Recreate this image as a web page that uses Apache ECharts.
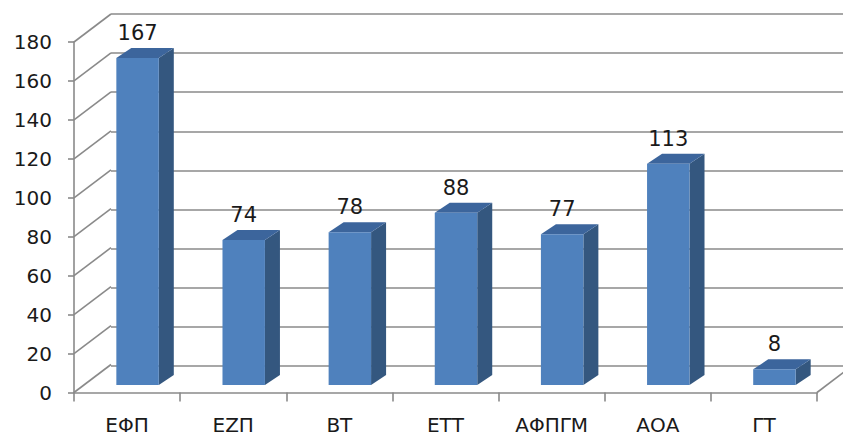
<!DOCTYPE html>
<html>
<head>
<meta charset="utf-8">
<script src="https://cdn.jsdelivr.net/npm/echarts@6/dist/echarts.min.js"></script>
<style>html,body{margin:0;padding:0;background:#fff}#c{width:843px;height:437px}</style>
</head>
<body>
<div id="c"></div>
<script>
const categories = ['ΕΦΠ', 'ΕΖΠ', 'ΒΤ', 'ΕΤΤ', 'ΑΦΠΓΜ', 'ΑΟΑ', 'ΓΤ'];
const values = [167, 74, 78, 88, 77, 113, 8];
const yMin = 0, yMax = 180, yStep = 20;
const gridValues = [0, 20, 40, 60, 80, 100, 120, 140, 160, 180];

const chart = echarts.init(document.getElementById('c'), null, {renderer: 'svg'});
const lineColor = '#8a8a8a';
const textColor = '#1a1a1a';
const font = 'DejaVu Sans';
const wallDX = 37, wallDY = -28;
const barDX = 15, barDY = -10;

const grids = [
  {left: 74, top: 42, width: 743, height: 350.5},      // front axes
  {left: 111, top: 14, width: 743, height: 352},      // back wall
  {left: 84.5, top: 32.6, width: 743, height: 352.4}  // bar plane
];

const yBase = (i, show) => ({
  type: 'value', gridIndex: i, min: yMin, max: yMax, interval: yStep,
  axisLine: {show: show, lineStyle: {color: lineColor, width: 1.6}},
  axisTick: {show: show, length: 6, lineStyle: {color: lineColor, width: 1.6}},
  axisLabel: {show: show, margin: 22, color: textColor, fontFamily: font, fontSize: 20},
  splitLine: {show: i === 1, lineStyle: {color: lineColor, width: 1.6}}
});
const xBase = (i, show) => ({
  type: 'category', gridIndex: i, data: categories, boundaryGap: true,
  axisLine: {show: show, lineStyle: {color: lineColor, width: 1.6}},
  axisTick: {show: show, length: 9, alignWithLabel: false, interval: 0, lineStyle: {color: lineColor, width: 1.6}},
  axisLabel: {show: show, margin: 22, interval: 0, color: textColor, fontFamily: font, fontSize: 20},
  splitLine: {show: false}
});

chart.setOption({
  animation: false,
  grid: grids,
  xAxis: [xBase(0, true), xBase(1, false), xBase(2, false)],
  yAxis: [yBase(0, true), yBase(1, false), yBase(2, false)],
  series: [
    {
      type: 'custom', xAxisIndex: 0, yAxisIndex: 0, z: 1,
      data: gridValues.map(v => [0, v]),
      renderItem: function (params, api) {
        const cs = params.coordSys;
        const y = api.coord([0, api.value(1)])[1];
        const children = [{
          type: 'line',
          shape: {x1: cs.x, y1: y, x2: cs.x + wallDX, y2: y + wallDY},
          style: {stroke: lineColor, lineWidth: 1.6}
        }];
        if (api.value(1) === yMin) {
          const xr = cs.x + cs.width;
          children.push({
            type: 'line',
            shape: {x1: xr, y1: y, x2: xr + wallDX, y2: y + wallDY},
            style: {stroke: lineColor, lineWidth: 1.6}
          });
        }
        return {type: 'group', children: children};
      }
    },
    {
      type: 'custom', xAxisIndex: 2, yAxisIndex: 2, z: 5,
      data: values.map((v, i) => [i, v]),
      renderItem: function (params, api) {
        const top = api.coord([api.value(0), api.value(1)]);
        const bot = api.coord([api.value(0), 0]);
        const w = api.size([1, 0])[0] * 0.4;
        const x0 = top[0] - w / 2, x1 = top[0] + w / 2;
        const yt = top[1], yb = bot[1];
        return {
          type: 'group',
          children: [
            {type: 'polygon', shape: {points: [[x1, yt], [x1 + barDX, yt + barDY], [x1 + barDX, yb + barDY], [x1, yb]]},
             style: {fill: '#34577f'}},
            {type: 'polygon', shape: {points: [[x0, yt], [x0 + barDX, yt + barDY], [x1 + barDX, yt + barDY], [x1, yt]]},
             style: {fill: '#3c659c'}},
            {type: 'rect', shape: {x: x0, y: yt, width: w, height: yb - yt},
             style: {fill: '#4f81bd'}},
            {type: 'text', x: top[0], y: yt - 25,
             style: {text: String(api.value(1)), fill: textColor, font: '21px "' + font + '"', align: 'center', verticalAlign: 'middle'}}
          ]
        };
      }
    }
  ]
});
</script>
</body>
</html>
